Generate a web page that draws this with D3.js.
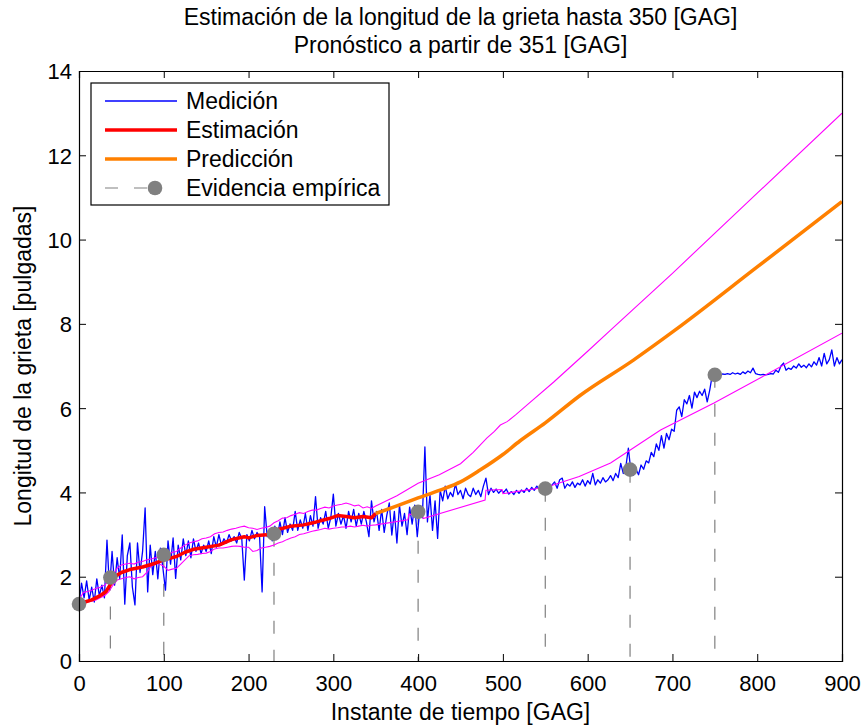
<!DOCTYPE html>
<html>
<head>
<meta charset="utf-8">
<script src="https://cdn.jsdelivr.net/npm/d3@7/dist/d3.min.js"></script>
<style>
  html, body { margin: 0; padding: 0; background: #fff; }
  svg { display: block; }
  text { font-family: "Liberation Sans", Arial, Helvetica, sans-serif; fill: #000; }
</style>
</head>
<body>
<svg id="chart" width="862" height="727"></svg>
<script>
// ---------------- DATA ----------------
const titleLines = ["Estimación de la longitud de la grieta hasta 350 [GAG]", "Pronóstico a partir de 351 [GAG]"];
const xLabel = "Instante de tiempo [GAG]";
const yLabel = "Longitud de la grieta [pulgadas]";
const xTicks = [0, 100, 200, 300, 400, 500, 600, 700, 800, 900];
const yTicks = [0, 2, 4, 6, 8, 10, 12, 14];
const legendLabels = ["Medición", "Estimación", "Predicción", "Evidencia empírica"];

// Medición (measurements), sampled every 3 GAG from 0 to 900
const measStart = 0, measStep = 3;
const measY = [
  1.35,1.85,1.50,1.90,1.45,1.75,1.40,1.95,1.55,1.80,
  1.50,2.87,1.70,2.60,1.80,2.45,1.95,2.99,1.35,2.50,
  2.80,1.75,1.33,2.80,2.10,2.60,3.63,1.64,2.75,2.05,
  2.60,1.95,2.68,2.20,1.68,2.85,2.30,2.92,1.96,2.75,
  2.40,2.90,2.50,2.85,2.45,2.90,2.60,2.80,2.55,2.75,
  2.60,2.85,2.55,2.95,2.70,3.00,2.75,2.90,2.80,3.00,
  2.85,2.95,2.80,3.05,2.90,1.92,3.00,2.85,3.10,2.90,
  3.05,2.95,1.64,3.66,2.95,3.10,2.85,3.20,2.95,3.30,
  3.00,3.40,3.05,3.25,3.10,3.55,3.10,3.35,3.15,3.50,
  3.10,3.45,3.20,3.90,3.15,3.40,3.25,3.55,3.15,3.40,
  3.96,3.20,3.50,3.25,3.45,3.15,3.55,3.30,3.60,3.20,
  3.50,3.25,3.55,3.30,2.95,3.80,3.30,3.55,3.10,3.60,
  3.05,3.45,3.75,2.99,3.55,2.80,3.70,3.20,3.50,3.00,
  3.65,3.25,3.70,2.95,3.60,3.40,5.08,3.30,3.95,3.10,
  3.80,2.91,4.05,3.80,4.15,3.85,4.00,3.90,4.20,3.95,
  4.05,3.85,4.10,3.95,3.90,4.10,3.95,4.05,3.90,4.15,
  4.34,3.95,4.10,4.00,4.08,3.98,4.05,4.00,4.08,3.96,
  4.02,3.95,4.05,3.98,4.06,4.00,4.10,4.02,4.12,4.05,
  4.15,4.08,4.12,4.05,4.15,4.08,4.18,4.25,4.10,4.30,
  4.34,4.10,4.20,4.15,4.25,4.12,4.22,4.18,4.30,4.15,
  4.28,4.20,4.45,4.18,4.30,4.22,4.35,4.25,4.30,4.40,
  4.28,4.45,4.35,4.69,4.45,4.60,5.05,4.50,4.41,4.55,
  4.42,4.65,4.55,4.75,4.70,4.95,4.85,5.15,5.00,5.35,
  5.05,5.40,5.25,5.50,5.45,5.95,6.03,5.80,6.20,6.10,
  6.30,6.00,6.38,6.25,6.40,6.30,6.45,6.15,6.43,6.79,
  6.80,6.80,6.78,6.81,6.80,6.82,6.80,6.84,6.81,6.83,
  6.80,6.86,6.82,6.88,6.84,6.95,6.82,6.80,6.79,6.80,
  6.79,6.80,6.82,6.81,6.90,6.85,7.00,7.07,6.90,6.95,
  6.92,7.00,6.95,7.05,6.97,7.02,6.96,7.05,6.98,7.10,
  7.02,7.20,7.00,7.30,7.05,7.15,7.38,7.00,7.20,7.05,
  7.15
];

// Estimación (estimate) up to 350
const estX = [7,15,25,32,38,42,50,60,75,90,100,115,125,135,150,165,180,195,200,210,225,235,250,265,280,295,305,315,325,335,345,350];
const estY = [1.40,1.45,1.55,1.65,1.85,2.00,2.10,2.17,2.23,2.32,2.40,2.48,2.58,2.65,2.70,2.75,2.88,2.95,2.92,2.98,3.00,3.12,3.20,3.23,3.30,3.38,3.45,3.43,3.40,3.43,3.40,3.50];

// Predicción (forecast) from 350
const predX = [350,375,400,425,450,473,500,520,550,591,654,703,800,900];
const predY = [3.50,3.68,3.87,4.05,4.25,4.53,4.90,5.22,5.65,6.30,7.14,7.85,9.35,10.90];

// Upper confidence bound
const upperX = [0,5,10,15,20,25,30,35,40,45,50,55,60,65,70,75,80,85,90,95,100,105,110,115,120,125,130,135,140,145,150,155,160,165,170,175,180,185,190,195,200,205,210,215,220,225,230,235,240,245,250,255,260,265,270,275,280,285,290,295,300,305,310,315,320,325,330,335,340,345,350,375,400,425,450,465,481,490,497,505,515,530,560,600,627,700,800,900];
const upperY = [1.45,1.62,1.65,1.68,1.72,1.75,1.80,1.88,2.05,2.20,2.28,2.30,2.32,2.30,2.35,2.36,2.40,2.42,2.45,2.47,2.50,2.52,2.58,2.60,2.68,2.75,2.80,2.83,2.85,2.90,2.92,2.95,3.02,3.05,3.06,3.10,3.13,3.15,3.18,3.20,3.16,3.15,3.12,3.15,3.17,3.20,3.28,3.33,3.39,3.40,3.45,3.48,3.52,3.50,3.55,3.58,3.58,3.62,3.65,3.63,3.68,3.70,3.72,3.75,3.72,3.68,3.70,3.63,3.66,3.62,3.68,3.92,4.22,4.42,4.68,4.95,5.29,5.45,5.60,5.68,5.84,6.10,6.62,7.35,7.85,9.20,11.10,13.00];

// Lower confidence bound
const lowerX = [0,5,10,15,20,25,30,35,40,45,50,55,60,65,70,75,80,85,90,95,100,105,110,115,120,125,130,135,140,145,150,155,160,165,170,175,180,185,190,195,200,205,210,215,220,225,230,235,240,245,250,255,260,265,270,275,280,285,290,295,300,305,310,315,320,325,330,335,340,345,350,388,389,405,406,479,480,499,500,552,590,627,686,749,900];
const lowerY = [1.28,1.35,1.40,1.42,1.45,1.50,1.55,1.64,1.80,1.92,1.95,1.98,2.00,1.95,1.98,2.00,2.10,2.25,2.32,2.30,2.25,2.15,2.18,2.20,2.30,2.40,2.50,2.52,2.53,2.55,2.56,2.60,2.66,2.68,2.68,2.70,2.72,2.73,2.72,2.70,2.70,2.60,2.62,2.68,2.70,2.72,2.75,2.80,2.83,2.88,2.92,2.95,3.00,3.02,3.05,3.08,3.10,3.12,3.15,3.13,3.15,3.16,3.18,3.18,3.20,3.18,3.20,3.22,3.20,3.22,3.23,3.35,3.48,3.48,3.38,3.82,4.05,4.07,3.97,4.13,4.38,4.70,5.48,6.12,7.78];

// Evidencia empírica
const evidX = [0, 37, 100, 230, 400, 550, 650, 750];
const evidY = [1.35, 1.98, 2.52, 3.02, 3.54, 4.09, 4.54, 6.79];

// ---------------- LAYOUT ----------------
const W = 862, H = 727;
const plot = { left: 79, top: 71, right: 842, bottom: 661 };
const svg = d3.select("#chart");

const x = d3.scaleLinear().domain([0, 900]).range([plot.left, plot.right]);
const y = d3.scaleLinear().domain([0, 14]).range([plot.bottom, plot.top]);

svg.append("defs").append("clipPath").attr("id", "clip")
  .append("rect").attr("x", plot.left).attr("y", plot.top)
  .attr("width", plot.right - plot.left).attr("height", plot.bottom - plot.top);

const g = svg.append("g").attr("clip-path", "url(#clip)");
const line = d3.line().x(d => x(d[0])).y(d => y(d[1]));

const zip = (xs, ys) => xs.map((v, i) => [v, ys[i]]);
const measData = measY.map((v, i) => [measStart + i * measStep, v]);

// dashed stems for evidence
g.selectAll(".stem").data(zip(evidX, evidY)).enter().append("line")
  .attr("x1", d => x(d[0])).attr("x2", d => x(d[0]))
  .attr("y1", d => y(d[1])).attr("y2", d => y(0))
  .attr("stroke", "#808080").attr("stroke-width", 1.2)
  .attr("stroke-dasharray", "13,16");

// measurement
g.append("path").datum(measData).attr("d", line)
  .attr("fill", "none").attr("stroke", "#0000ff").attr("stroke-width", 1.3)
  .attr("stroke-linejoin", "round");

// bounds
g.append("path").datum(zip(upperX, upperY)).attr("d", line)
  .attr("fill", "none").attr("stroke", "#ff00ff").attr("stroke-width", 1.1);
g.append("path").datum(zip(lowerX, lowerY)).attr("d", line)
  .attr("fill", "none").attr("stroke", "#ff00ff").attr("stroke-width", 1.1);

// estimate
g.append("path").datum(zip(estX, estY)).attr("d", line)
  .attr("fill", "none").attr("stroke", "#ff0000").attr("stroke-width", 3.5)
  .attr("stroke-linejoin", "round");

// prediction
g.append("path").datum(zip(predX, predY)).attr("d", d3.line().x(d => x(d[0])).y(d => y(d[1])).curve(d3.curveMonotoneX))
  .attr("fill", "none").attr("stroke", "#ff8000").attr("stroke-width", 3.5);

// evidence markers
svg.selectAll(".ev").data(zip(evidX, evidY)).enter().append("circle")
  .attr("cx", d => x(d[0])).attr("cy", d => y(d[1])).attr("r", 7.3)
  .attr("fill", "#808080");

// ---------------- AXES ----------------
const tickFont = 22;
const axB = svg.append("g").attr("transform", `translate(0,${plot.bottom})`)
  .call(d3.axisBottom(x).tickValues(xTicks).tickSize(-7).tickPadding(14).tickFormat(d3.format("d")));
const axT = svg.append("g").attr("transform", `translate(0,${plot.top})`)
  .call(d3.axisTop(x).tickValues(xTicks).tickSize(-7).tickFormat(""));
const axL = svg.append("g").attr("transform", `translate(${plot.left},0)`)
  .call(d3.axisLeft(y).tickValues(yTicks).tickSize(-7).tickPadding(7).tickFormat(d3.format("d")));
const axR = svg.append("g").attr("transform", `translate(${plot.right},0)`)
  .call(d3.axisRight(y).tickValues(yTicks).tickSize(-7).tickFormat(""));

[axB, axT, axL, axR].forEach(a => {
  a.select(".domain").attr("stroke", "#000").attr("stroke-width", 1.2);
  a.selectAll(".tick line").attr("stroke", "#000").attr("stroke-width", 1);
  a.selectAll("text").attr("font-size", tickFont)
    .attr("font-family", '"Liberation Sans", Arial, Helvetica, sans-serif').attr("fill", "#000");
});
axB.selectAll(".tick text").attr("dy", "0.71em");
axL.selectAll(".tick text").attr("dy", "0.36em");

// ---------------- TEXT ----------------
const labelFont = 23;
svg.append("text").attr("x", (plot.left + plot.right) / 2).attr("y", 25)
  .attr("text-anchor", "middle").attr("font-size", labelFont).text(titleLines[0]);
svg.append("text").attr("x", (plot.left + plot.right) / 2).attr("y", 53)
  .attr("text-anchor", "middle").attr("font-size", labelFont).text(titleLines[1]);
svg.append("text").attr("x", (plot.left + plot.right) / 2).attr("y", 720)
  .attr("text-anchor", "middle").attr("font-size", labelFont).text(xLabel);
svg.append("text").attr("transform", `translate(31,${(plot.top + plot.bottom) / 2}) rotate(-90)`)
  .attr("text-anchor", "middle").attr("font-size", labelFont).text(yLabel);

// ---------------- LEGEND ----------------
const lg = svg.append("g");
lg.append("rect").attr("x", 91).attr("y", 83).attr("width", 298).attr("height", 122)
  .attr("fill", "#fff").attr("stroke", "#000").attr("stroke-width", 1.2);
const rowsY = [101, 130, 159, 188];
const styles = [
  { stroke: "#0000ff", w: 1.3 },
  { stroke: "#ff0000", w: 3.5 },
  { stroke: "#ff8000", w: 3.5 },
  { stroke: "#808080", w: 1.2, dash: "13,16", marker: true }
];
legendLabels.forEach((lab, i) => {
  const s = styles[i];
  const ln = lg.append("line").attr("x1", 105).attr("x2", s.marker ? 155 : 177)
    .attr("y1", rowsY[i]).attr("y2", rowsY[i])
    .attr("stroke", s.stroke).attr("stroke-width", s.w);
  if (s.dash) ln.attr("stroke-dasharray", s.dash);
  if (s.marker) lg.append("circle").attr("cx", 155).attr("cy", rowsY[i]).attr("r", 7.3).attr("fill", "#808080");
  lg.append("text").attr("x", 186).attr("y", rowsY[i]).attr("dy", "0.36em")
    .attr("font-size", labelFont).text(lab);
});
</script>
</body>
</html>
